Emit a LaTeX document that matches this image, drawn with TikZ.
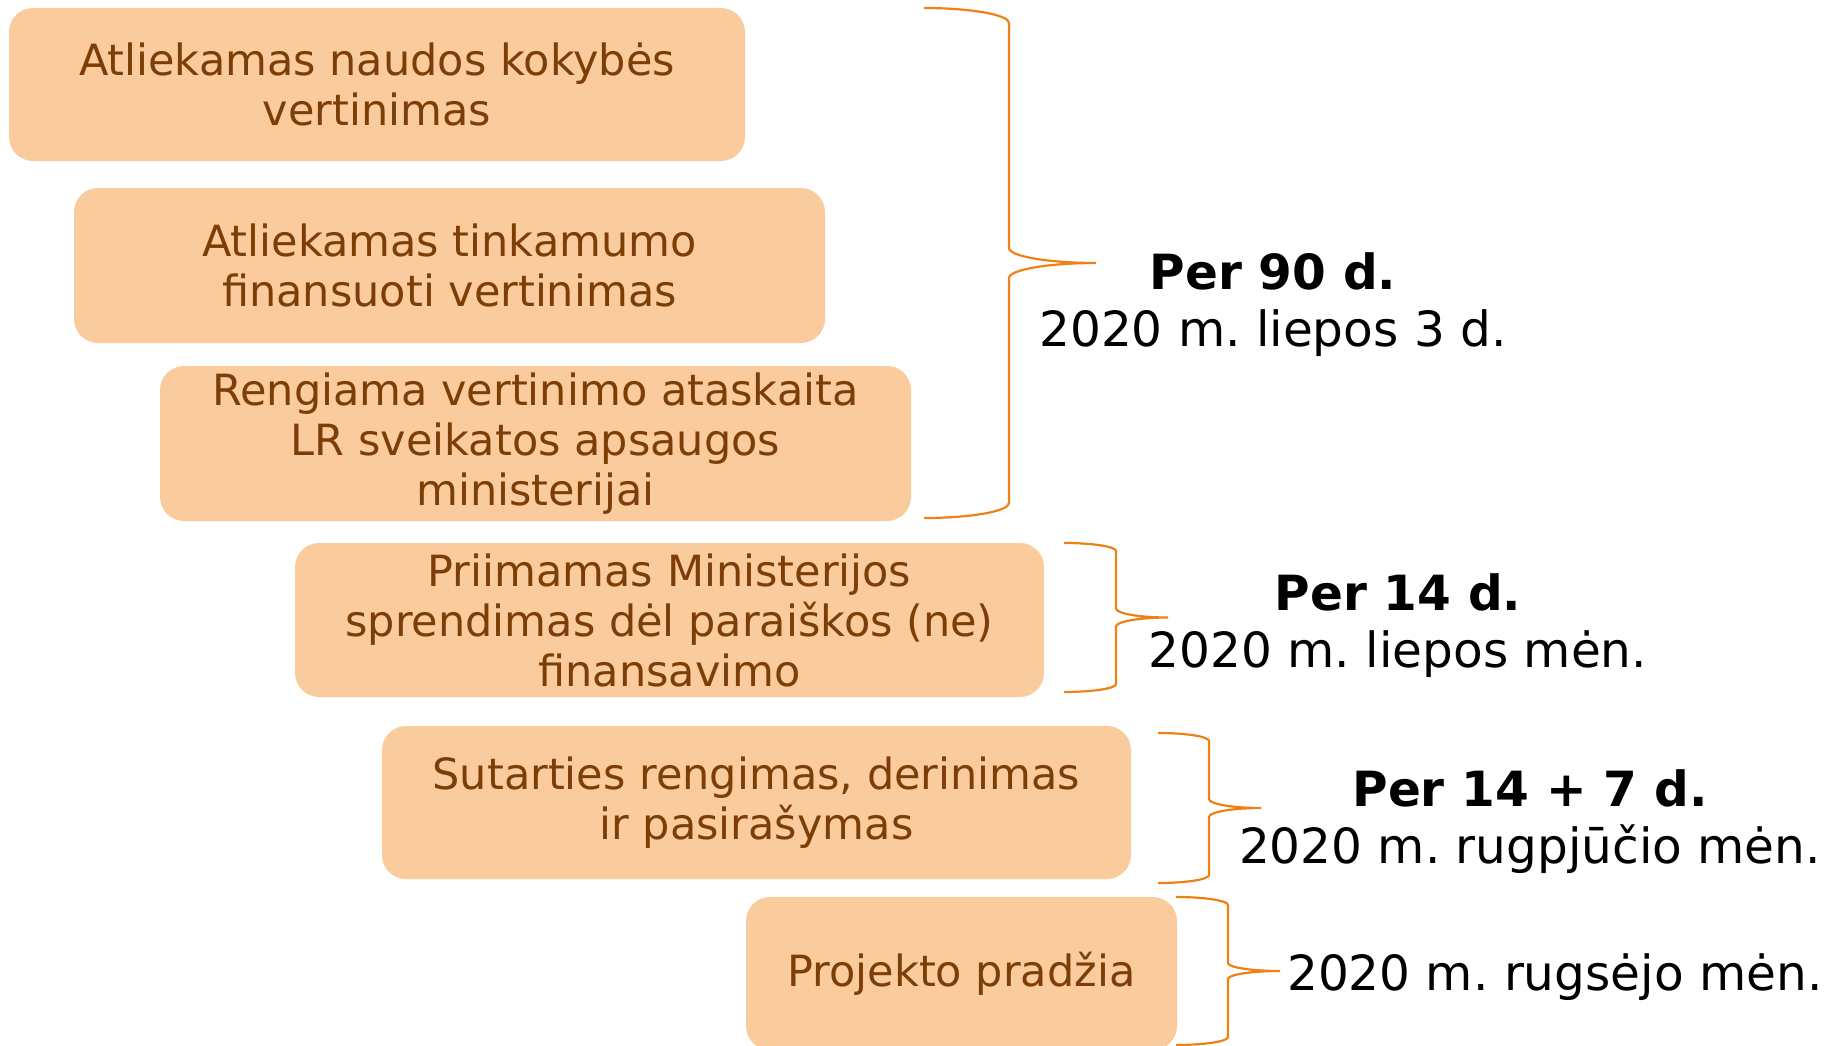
\documentclass[tikz,border=0pt]{standalone}
\usepackage{fontspec}
\setmainfont{DejaVu Sans}
\usepackage{tikz}
\definecolor{dezute}{RGB}{250,203,156}
\definecolor{rudas}{RGB}{124,62,6}
\definecolor{oranzine}{RGB}{238,128,20}
\frenchspacing

\begin{document}
\begin{tikzpicture}[x=1pt,y=-1pt,
	etapas/.style={fill=dezute, rounded corners=24pt, text=rudas, align=center, inner sep=0pt, font=\fontsize{43}{50}\selectfont},
	terminas/.style={align=center, inner sep=0pt, font=\fontsize{48.5}{57}\selectfont},
	kabute/.style={draw=oranzine, line width=2.2pt}]
		
		\useasboundingbox (0,0) rectangle (1831,1046);
		
		\node[etapas, minimum width=736pt, minimum height=153pt] (naudos) at (377,84.5) {Atliekamas naudos kokybės\\vertinimas};
		\node[etapas, minimum width=751pt, minimum height=155pt] (tinkamumo) at (449.5,265.5) {Atliekamas tinkamumo\\finansuoti vertinimas};
		\node[etapas, minimum width=751pt, minimum height=155pt] (ataskaita) at (535.5,443.5) {Rengiama vertinimo ataskaita\\LR sveikatos apsaugos\\ministerijai};
		\node[etapas, minimum width=749pt, minimum height=154pt] (sprendimas) at (669.5,620) {Priimamas Ministerijos\\sprendimas dėl paraiškos (ne)\\finansavimo};
		\node[etapas, minimum width=749pt, minimum height=153pt] (sutartis) at (756.5,802.5) {Sutarties rengimas, derinimas\\ir pasirašymas};
		\node[etapas, minimum width=431pt, minimum height=153pt] (pradzia) at (961.5,973.5) {Projekto pradžia};
		
		% riestiniai skliaustai
		\foreach \xa/\xb/\xc/\ya/\yb/\k/\t in {924/1009/1096/8/518/15/15, 1064/1116/1168/543/692/8/9, 1158/1209/1261/733/883/8/9, 1176/1228/1280/897/1045/8/8} {
			\pgfmathsetmacro\ym{(\ya+\yb)/2}
			\draw[kabute] (\xa,\ya) .. controls ({\xa+0.55*(\xb-\xa)},\ya) and (\xb,{\ya+0.45*\k}) .. (\xb,{\ya+\k})
				-- (\xb,{\ym-\t}) .. controls (\xb,{\ym-0.45*\t}) and ({\xb+0.45*(\xc-\xb)},\ym) .. (\xc,\ym)
				.. controls ({\xb+0.45*(\xc-\xb)},\ym) and (\xb,{\ym+0.45*\t}) .. (\xb,{\ym+\t})
				-- (\xb,{\yb-\k}) .. controls (\xb,{\yb-0.45*\k}) and ({\xa+0.55*(\xb-\xa)},\yb) .. (\xa,\yb);
		}
		
		\node[terminas] (per90) at (1273,305) {\textbf{Per 90 d.}\\2020 m. liepos 3 d.};
		\node[terminas] (per14) at (1398,626) {\textbf{Per 14 d.}\\2020 m. liepos mėn.};
		\node[terminas] (per21) at (1530,822) {\textbf{Per 14 + 7 d.}\\2020 m. rugpjūčio mėn.};
		\node[terminas, anchor=base west] (rugsejis) at (1287,990) {2020 m. rugsėjo mėn.};
	\end{tikzpicture}
\end{document}
